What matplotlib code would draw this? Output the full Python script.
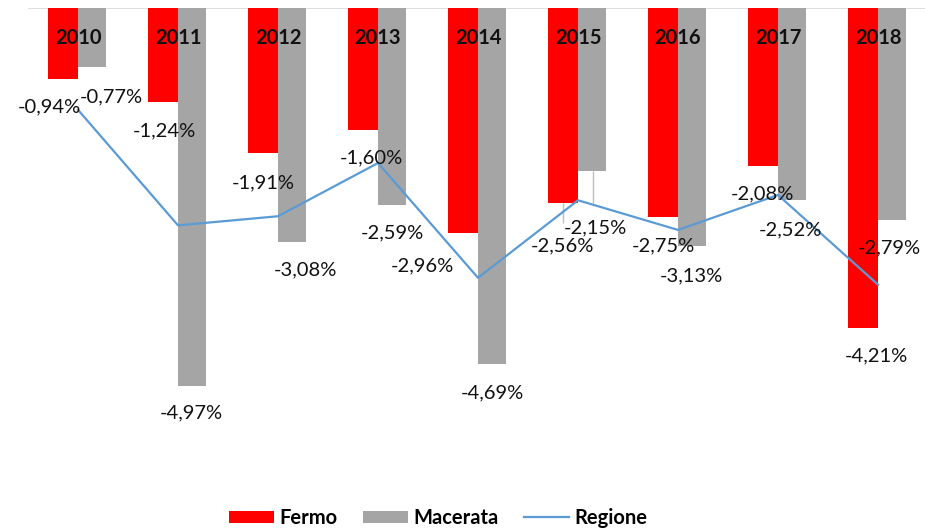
import matplotlib
matplotlib.use("Agg")
import matplotlib.pyplot as plt
from matplotlib.patches import Patch
from matplotlib.lines import Line2D
import numpy as np

plt.rcParams['font.family'] = ['Lato', 'DejaVu Sans']

years = ['2010', '2011', '2012', '2013', '2014', '2015', '2016', '2017', '2018']
fermo = [-0.94, -1.24, -1.91, -1.60, -2.96, -2.56, -2.75, -2.08, -4.21]
macerata = [-0.77, -4.97, -3.08, -2.59, -4.69, -2.15, -3.13, -2.52, -2.79]
regione = [-1.34, -2.86, -2.74, -2.04, -3.55, -2.53, -2.92, -2.46, -3.64]

# label offsets (pixels) relative to bar ends (layout only)
fermo_off = [(-14, -27), (1, -29), (0, -30), (8, -28), (-41, -33), (-1, -43), (0, -29), (-1, -28), (13, -28)]
mac_off = [(18, -30), (-2, -27), (12, -28), (-1, -28), (-1, -28), (2, -56), (-2, -30), (-3, -30), (-4, -28)]

W, H = 925, 530
fig = plt.figure(figsize=(W / 100, H / 100), dpi=100)
ax = fig.add_axes([28 / W, (530 - 464) / H, 900 / W, 456 / H])

x = np.arange(len(years))
bw = 0.3
red = '#FF0000'
gray = '#A5A5A5'
blue = '#5B9BD5'

ax.bar(x - bw / 2, fermo, bw, color=red, zorder=2)
ax.bar(x + bw / 2 - 0.01, macerata, bw - 0.02, color=gray, zorder=2)
ax.plot(x, regione, color=blue, lw=1.6, zorder=3)
ax.axhline(0, color='#D9D9D9', lw=1.2, zorder=1)

ax.set_xlim(-0.5, 8.5)
ax.set_ylim(-6, 0)
ax.axis('off')

def fmt(v):
    return f"{v:.2f}".replace('.', ',') + '%'

lbl_kw = dict(textcoords='offset pixels', ha='center', va='center',
              fontsize=14.5, color='#111111', zorder=5)
for i in range(len(years)):
    ax.annotate(fmt(fermo[i]), (x[i] - bw / 2, fermo[i]), xytext=fermo_off[i], **lbl_kw)
    ax.annotate(fmt(macerata[i]), (x[i] + bw / 2, macerata[i]), xytext=mac_off[i], **lbl_kw)
    ax.text(x[i], -0.4, years[i], ha='center', va='center', fontsize=14.5,
            fontweight='bold', color='#111111', zorder=5)

# leader lines for 2015
i = 5
ax.vlines(x[i] + bw / 2, macerata[i] - 0.41, macerata[i], color='#BFBFBF', lw=1, zorder=1)
ax.vlines(x[i] - bw / 2, fermo[i] - 0.27, fermo[i], color='#BFBFBF', lw=1, zorder=1)

handles = [Patch(facecolor=red, label='Fermo'),
           Patch(facecolor=gray, label='Macerata'),
           Line2D([0], [0], color=blue, lw=1.6, label='Regione')]
fig.legend(handles=handles, loc='center', bbox_to_anchor=(438 / W, 1 - 518 / H), ncol=3,
           frameon=False, handlelength=2.25, handleheight=0.6, columnspacing=1.25,
           handletextpad=0.25, prop={'size': 14.5, 'weight': 'bold'})

fig.savefig('out.png', dpi=100, facecolor='white')
